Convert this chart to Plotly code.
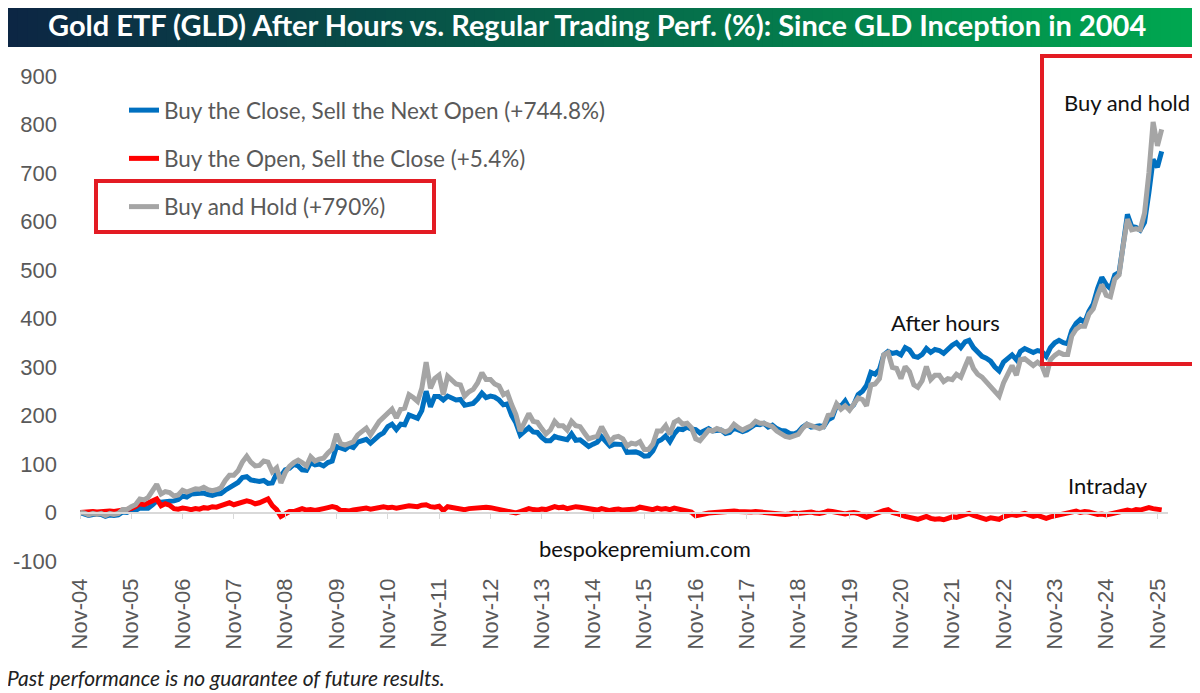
import pandas as pd
import plotly.graph_objects as go

OFF = 8  # the page body margin pushes the figure 8px right and down
W, H = 1200 - OFF, 693 - OFF

# monthly readings (18th of each month), Nov 2004 .. Dec 2025
dates = pd.date_range("2004-11-01", "2025-12-01", freq="MS") + pd.Timedelta(days=17)

after_hours = [
    0, -2,
    -6, -4, -5, -4, -8, -5, -6, -5, 1, 0, 4, 4,
    9, 9, 9, 16, 24, 21, 21, 23, 24, 27, 34, 32,
    38, 39, 38, 40, 37, 35, 38, 39, 46, 52, 57, 62,
    72, 74, 67, 66, 64, 66, 60, 61, 81, 75, 88, 91,
    99, 96, 88, 87, 103, 98, 100, 96, 103, 106, 136, 133,
    130, 137, 134, 145, 148, 151, 143, 152, 159, 164, 177, 182,
    171, 182, 181, 201, 198, 194, 210, 250, 218, 239, 239, 232,
    240, 235, 232, 233, 221, 223, 225, 234, 246, 237, 240, 238,
    232, 222, 224, 200, 185, 160, 168, 175, 166, 165, 155, 148,
    148, 157, 154, 151, 150, 162, 149, 150, 142, 136, 141, 145,
    156, 146, 137, 141, 140, 140, 124, 125, 125, 122, 116, 117,
    127, 146, 150, 158, 146, 162, 172, 171, 176, 172, 171, 164,
    169, 173, 168, 170, 170, 163, 165, 174, 170, 167, 170, 176,
    182, 181, 184, 176, 180, 173, 169, 168, 163, 162, 166, 176,
    182, 176, 178, 179, 177, 191, 196, 221, 219, 230, 214, 222,
    243, 250, 262, 289, 285, 295, 325, 332, 328, 330, 325, 340,
    335, 322, 320, 326, 338, 330, 336, 334, 328, 338, 345, 350,
    340, 352, 355, 340, 330, 322, 318, 312, 300, 292, 310, 318,
    325, 315, 332, 338, 335, 330, 334, 332, 322, 340, 350, 355,
    350, 348, 375, 390, 398, 392, 415, 430, 462, 485, 470, 462,
    490, 495, 550, 615, 590, 588, 582, 598, 660, 728, 712, 744.8,
]

intraday = [
    0, 1,
    1, 2, 1, 2, 2, 3, 2, 3, 5, 6, 8, 12,
    18, 16, 20, 26, 28, 14, 18, 15, 8, 7, 9, 8,
    6, 8, 7, 10, 9, 12, 11, 14, 18, 20, 16, 18,
    20, 24, 22, 18, 20, 24, 28, 14, 6, -8, -4, 2,
    2, 6, 8, 5, 6, 4, 5, 8, 10, 12, 10, 4,
    4, 3, 5, 6, 8, 9, 7, 9, 11, 12, 10, 11,
    9, 11, 12, 14, 13, 12, 15, 16, 12, 11, 13, 4,
    12, 11, 10, 9, 6, 8, 9, 10, 12, 11, 10, 8,
    8, 4, 4, 0, -1, 2, 5, 8, 6, 5, 7, 6,
    9, 12, 10, 11, 8, 10, 12, 11, 9, 7, 6, 5,
    8, 6, 4, 6, 7, 5, 6, 8, 7, 11, 9, 8,
    6, 9, 7, 8, 6, 9, 7, 4, 3, 1, -7, -6,
    -3, -1, 0, 1, 0, 1, 2, 3, 2, 1, 2, 1,
    2, 1, 0, 1, -1, -2, -3, -4, -3, -1, -2, -1,
    0, 1, -1, -2, 0, 3, 2, 1, -2, -3, -1, 0,
    -2, -5, -10, -6, -2, 1, 4, 6, 0, -2, -6, -8,
    -10, -13, -14, -11, -8, -12, -14, -13, -15, -12, -9, -10,
    -8, -4, -2, -6, -9, -12, -14, -11, -13, -14, -9, -6,
    -4, -6, -3, -2, -5, -8, -6, -10, -12, -9, -7, -6,
    -4, -2, 2, 3, 0, 2, 1, -2, -4, -3, -5, -3,
    -1, 1, 3, 5, 3, 6, 5, 8, 10, 8, 6, 5.4,
]

buy_hold = [
    0, -1,
    -5, -2, -4, -2, -6, -2, -4, -2, 6, 6, 12, 16,
    28, 26, 31, 46, 58, 38, 43, 41, 34, 36, 46, 42,
    46, 49, 48, 52, 47, 45, 47, 51, 66, 77, 77, 86,
    104, 116, 104, 96, 97, 106, 104, 84, 92, 61, 82, 95,
    103, 108, 103, 96, 115, 106, 110, 112, 123, 131, 162, 142,
    139, 144, 146, 160, 168, 174, 160, 175, 188, 196, 205, 213,
    195, 213, 215, 243, 237, 229, 256, 310, 256, 276, 283, 243,
    281, 272, 265, 263, 240, 249, 254, 267, 288, 274, 274, 265,
    261, 243, 247, 222, 202, 168, 188, 204, 188, 186, 173, 162,
    170, 188, 179, 179, 170, 188, 179, 177, 164, 152, 155, 157,
    177, 161, 146, 155, 157, 152, 137, 143, 141, 146, 130, 130,
    141, 168, 168, 179, 161, 186, 191, 182, 184, 175, 152, 148,
    161, 170, 168, 173, 170, 166, 170, 182, 175, 170, 175, 179,
    188, 184, 184, 179, 177, 168, 161, 157, 155, 159, 161, 173,
    182, 179, 175, 173, 177, 200, 202, 224, 213, 220, 211, 222,
    236, 233, 220, 263, 265, 276, 325, 330, 299, 297, 276, 301,
    290, 263, 258, 272, 301, 274, 283, 283, 270, 276, 274, 285,
    279, 301, 320, 297, 285, 279, 270, 258, 249, 240, 267, 283,
    303, 283, 315, 317, 310, 303, 310, 303, 280, 315, 324, 330,
    326, 326, 364, 378, 384, 384, 409, 420, 448, 470, 448, 445,
    481, 490, 549, 605, 583, 585, 583, 617, 700, 805, 756, 790,
]

series_names = [
    "Buy the Close, Sell the Next Open (+744.8%)",
    "Buy the Open, Sell the Close (+5.4%)",
    "Buy and Hold (+790%)",
]

tick_dates = pd.date_range("2004-11-01", "2025-11-01", freq="12MS") + pd.Timedelta(days=17)
tick_labels = [
    "Nov-04", "Nov-05", "Nov-06", "Nov-07", "Nov-08", "Nov-09", "Nov-10", "Nov-11",
    "Nov-12", "Nov-13", "Nov-14", "Nov-15", "Nov-16", "Nov-17", "Nov-18", "Nov-19",
    "Nov-20", "Nov-21", "Nov-22", "Nov-23", "Nov-24", "Nov-25",
]
y_ticks = [-100, 0, 100, 200, 300, 400, 500, 600, 700, 800, 900]
y_tick_labels = ["-100", "0", "100", "200", "300", "400", "500", "600", "700", "800", "900"]


def px_x(x):
    return (x - OFF) / W


def px_y(y):
    return 1 - (y - OFF) / H


def _lerp(c0, c1, t):
    return "rgb(%d,%d,%d)" % tuple(round(a + (b - a) * t) for a, b in zip(c0, c1))


def _banner_shapes(n=120):
    left = (12, 38, 68)
    right = (0, 168, 80)
    shapes = []
    for i in range(n):
        shapes.append(dict(
            type="rect", xref="paper", yref="paper",
            x0=i / n, x1=(i + 1) / n + 0.001,
            y0=px_y(47), y1=1,
            fillcolor=_lerp(left, right, i / (n - 1)),
            line=dict(width=0), layer="below",
        ))
    return shapes


def _box(x0, y0, x1, y1):
    return dict(
        type="rect", xref="paper", yref="paper",
        x0=px_x(x0), x1=px_x(x1), y0=px_y(y1), y1=px_y(y0),
        line=dict(color="#E31B23", width=4), fillcolor="rgba(0,0,0,0)",
    )


def _note(text, x, y, size=22, xanchor="center", italic=False, color="#111111"):
    return dict(
        text=f"<i>{text}</i>" if italic else text,
        xref="paper", yref="paper", x=px_x(x), y=px_y(y),
        xanchor=xanchor, yanchor="middle", showarrow=False,
        font=dict(family="Lato", size=size, color=color),
    )


fig = go.Figure()
for name, vals, color, grp in [
    (series_names[0], after_hours, "#0070C0", "a"),
    (series_names[1], intraday, "#FF0000", "b"),
    (series_names[2], buy_hold, "#A5A5A5", "c"),
]:
    fig.add_trace(go.Scatter(
        x=dates, y=vals, mode="lines", name=name, legendgroup=grp,
        line=dict(color=color, width=5),
    ))

axis_font = dict(family="Liberation Sans", size=22, color="#595959")

fig.update_layout(
    width=W, height=H,
    margin=dict(l=0, r=0, t=0, b=0, autoexpand=False),
    plot_bgcolor="white", paper_bgcolor="white",
    xaxis=dict(
        domain=[px_x(80), px_x(1168)],
        range=["2004-11-18", "2026-02-01"],
        anchor="free", position=px_y(513), automargin=False,
        showline=True, linecolor="#D9D9D9", linewidth=1.5,
        ticks="outside", ticklen=5, tickcolor="#D9D9D9",
        tickvals=tick_dates, ticktext=tick_labels, tickangle=-90,
        tickfont=axis_font, ticklabelstandoff=51,
        showgrid=False, zeroline=False,
    ),
    yaxis=dict(
        domain=[px_y(561), px_y(76)],
        range=[-100, 900], automargin=False,
        tickvals=y_ticks, ticktext=y_tick_labels,
        tickfont=axis_font, ticklabelstandoff=22,
        showgrid=False, zeroline=False, showline=False, ticks="",
    ),
    legend=dict(
        x=px_x(124), y=px_y(89), xanchor="left", yanchor="top",
        font=dict(family="Lato", size=22.5, color="#595959"),
        bgcolor="rgba(0,0,0,0)", tracegroupgap=16, traceorder="grouped",
    ),
    shapes=_banner_shapes() + [_box(96, 181, 434, 232), _box(1042, 56, 1197, 364)],
    annotations=[
        dict(
            text="<b>Gold ETF (GLD) After Hours vs. Regular Trading Perf. (%): Since GLD Inception in 2004</b>",
            xref="paper", yref="paper", x=px_x(597), y=px_y(24),
            xanchor="center", yanchor="middle", showarrow=False,
            font=dict(family="Lato", size=29, color="white"),
        ),
        _note("Buy and hold", 1127, 102),
        _note("After hours", 945, 322),
        _note("Intraday", 1108, 486),
        _note("bespokepremium.com", 645, 548),
        _note("Past performance is no guarantee of future results.", 5, 677,
              size=21, xanchor="left", italic=True, color="#222222"),
    ],
)

fig.write_html("out.html")
